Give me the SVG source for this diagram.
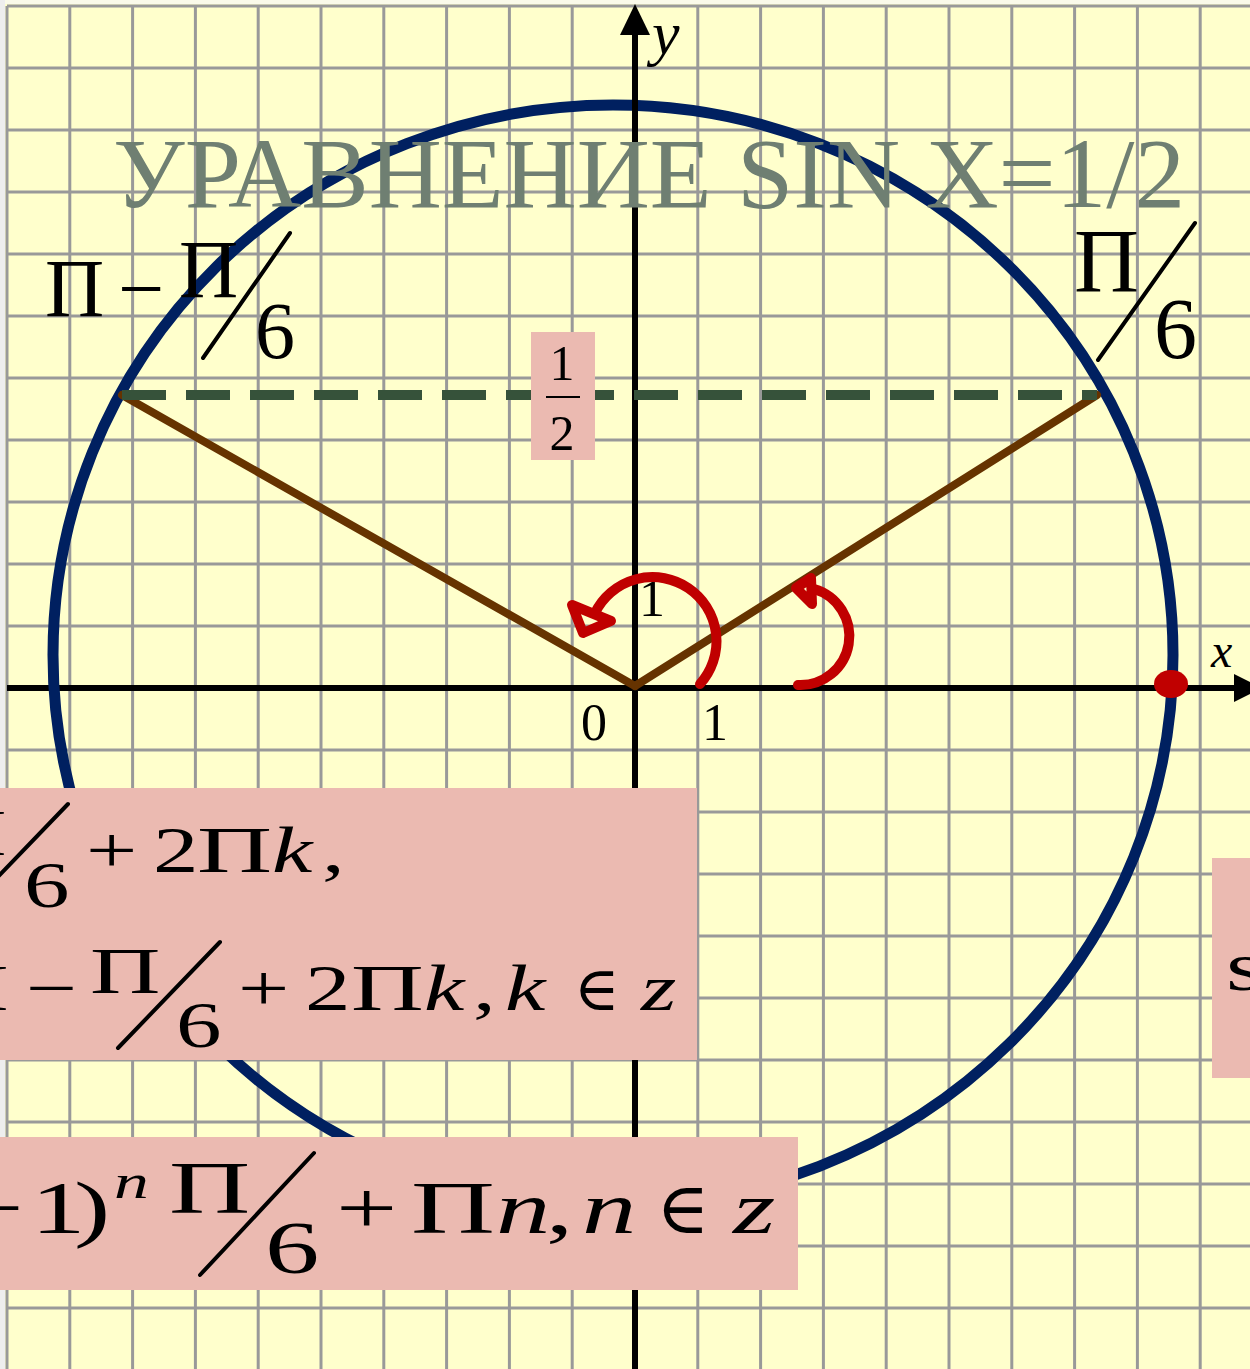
<svg xmlns="http://www.w3.org/2000/svg" width="1250" height="1369" viewBox="0 0 1250 1369">
<style>
.grid{stroke:#999999;stroke-width:3;fill:none}
.m{font-family:"Liberation Serif","DejaVu Serif",serif;fill:#000}
.i{font-style:italic}
.box{fill:#EBBAB1}
.red{stroke:#C00000;stroke-width:10;fill:none;stroke-linecap:round;stroke-linejoin:round}
.slash{stroke:#000;stroke-width:4;stroke-linecap:round}
</style>
<rect x="0" y="0" width="1250" height="1369" fill="#FFFFCC"/>
<rect x="0" y="0" width="1250" height="4" fill="#FAFAEA"/>
<rect x="0" y="0" width="5" height="1369" fill="#EEEEEE"/>
<g id="grid">
<path class="grid" d="M7 6V1369M69.8 6V1369M132.6 6V1369M195.4 6V1369M258.2 6V1369M321 6V1369M383.8 6V1369M446.6 6V1369M509.4 6V1369M572.2 6V1369M697.8 6V1369M760.6 6V1369M823.4 6V1369M886.2 6V1369M949 6V1369M1011.8 6V1369M1074.6 6V1369M1137.4 6V1369M1200.2 6V1369"/>
<path class="grid" d="M7 6H1250M7 68H1250M7 130H1250M7 192H1250M7 254H1250M7 316H1250M7 378H1250M7 440H1250M7 502H1250M7 564H1250M7 626H1250M7 750H1250M7 812H1250M7 874H1250M7 936H1250M7 998H1250M7 1060H1250M7 1122H1250M7 1184H1250M7 1246H1250M7 1308H1250"/>
</g>
<g id="x-axis">
<line x1="7" y1="688" x2="1236" y2="688" stroke="#000" stroke-width="6"/>
<polygon points="1234,674 1262,688 1234,702" fill="#000"/>
<text class="m i" x="1211" y="667" font-size="48">x</text>
</g>
<g id="circle">
<ellipse cx="613" cy="655" rx="560" ry="550" fill="none" stroke="#002060" stroke-width="11"/>
</g>
<g id="y-axis">
<line x1="635" y1="1369" x2="635" y2="32" stroke="#000" stroke-width="6"/>
<polygon points="635,4 620,35 650,35" fill="#000"/>
<text class="m i" x="652" y="54" font-size="62">y</text>
</g>
<g id="ticks">
<text class="m" x="581" y="740" font-size="52">0</text>
<text class="m" x="702" y="740" font-size="52">1</text>
<text class="m" x="639" y="616" font-size="52">1</text>
</g>
<g id="title">
<text x="113" y="207" font-family="'Liberation Serif',serif" font-size="100" fill="#6F7F72" textLength="1072" lengthAdjust="spacingAndGlyphs">УРАВНЕНИЕ SIN X=1/2</text>
</g>
<g id="connectors">
<line x1="635" y1="686" x2="122" y2="395" stroke="#663300" stroke-width="8" stroke-linecap="round"/>
<line x1="635" y1="686" x2="1097" y2="395" stroke="#663300" stroke-width="8" stroke-linecap="round"/>
<line x1="122" y1="395" x2="1097" y2="395" stroke="#36523A" stroke-width="10" stroke-dasharray="44 20"/>
<path class="red" d="M700 684 A64 64 0 1 0 595 613"/>
<polygon class="red" fill="#C00000" points="572,605 583,633 611,621"/>
<path class="red" d="M798 685 A49 49 0 0 0 814 589"/>
<polygon class="red" fill="#C00000" points="796,588 811,578 812,604"/>
</g>
<g id="point">
<ellipse cx="1171" cy="684" rx="17" ry="14" fill="#C00000"/>
</g>
<g id="label-pi-minus">
<text class="m" x="45" y="316" font-size="82">Π</text>
<text class="m" x="118" y="316" font-size="82">−</text>
<text class="m" x="179" y="297" font-size="82">Π</text>
<line class="slash" x1="203" y1="358" x2="290" y2="233"/>
<text class="m" x="255" y="358" font-size="80">6</text>
</g>
<g id="label-pi6">
<text class="m" x="1074" y="292" font-size="90">Π</text>
<line class="slash" x1="1098" y1="360" x2="1195" y2="223"/>
<text class="m" x="1154" y="358" font-size="86">6</text>
</g>
<g id="half">
<rect class="box" x="531" y="332" width="64" height="128"/>
<text class="m" x="562" y="380" font-size="50" text-anchor="middle">1</text>
<line x1="546" y1="397" x2="580" y2="397" stroke="#000" stroke-width="2"/>
<text class="m" x="562" y="450" font-size="50" text-anchor="middle">2</text>
</g>
<g id="formula1" font-size="65">
<rect class="box" x="-5" y="788" width="702" height="272"/>
<text class="m" transform="translate(-66,855) scale(1.55,1)">Π</text>
<line class="slash" x1="68" y1="804" x2="-34" y2="910"/>
<text class="m" transform="translate(24,907) scale(1.4,1)">6</text>
<text class="m" transform="translate(86,872) scale(1.4,1)">+</text>
<text class="m" transform="translate(153,872) scale(1.4,1)">2</text>
<text class="m" transform="translate(197,872) scale(1.6,1)">Π</text>
<text class="m i" transform="translate(272,872) scale(1.4,1)">k</text>
<text class="m" transform="translate(322,872) scale(1.4,1)">,</text>
<text class="m" transform="translate(-64,1010) scale(1.55,1)">Π</text>
<text class="m" transform="translate(26,1010) scale(1.4,1)">−</text>
<text class="m" transform="translate(90,993) scale(1.5,1)">Π</text>
<line class="slash" x1="118" y1="1048" x2="220" y2="942"/>
<text class="m" transform="translate(176,1047) scale(1.4,1)">6</text>
<text class="m" transform="translate(238,1010) scale(1.4,1)">+</text>
<text class="m" transform="translate(305,1010) scale(1.4,1)">2</text>
<text class="m" transform="translate(351,1010) scale(1.55,1)">Π</text>
<text class="m i" transform="translate(424,1010) scale(1.4,1)">k</text>
<text class="m" transform="translate(473,1010) scale(1.4,1)">,</text>
<text class="m i" transform="translate(505,1010) scale(1.4,1)">k</text>
<text class="m" font-size="62" transform="translate(574,1010)">∈</text>
<text class="m i" transform="translate(641,1010) scale(1.4,1)">z</text>
</g>
<g id="formula2" font-size="70">
<rect class="box" x="1212" y="858" width="45" height="220"/>
<text class="m" transform="translate(1226,990) scale(1.4,1)">s</text>
</g>
<g id="formula3" font-size="75">
<rect class="box" x="-5" y="1137" width="803" height="153"/>
<text class="m" transform="translate(-38,1233) scale(1.45,1)">−</text>
<text class="m" transform="translate(31,1233) scale(1.45,1)">1</text>
<text class="m" transform="translate(74,1233) scale(1.45,1)">)</text>
<text class="m i" font-size="48" transform="translate(114,1198) scale(1.45,1)">n</text>
<text class="m" transform="translate(169,1213) scale(1.5,1)">Π</text>
<line class="slash" x1="200" y1="1275" x2="314" y2="1153"/>
<text class="m" transform="translate(265,1273) scale(1.45,1)">6</text>
<text class="m" transform="translate(336,1233) scale(1.45,1)">+</text>
<text class="m" transform="translate(411,1233) scale(1.55,1)">Π</text>
<text class="m i" transform="translate(496,1233) scale(1.45,1)">n</text>
<text class="m" transform="translate(546,1233) scale(1.45,1)">,</text>
<text class="m i" transform="translate(582,1233) scale(1.45,1)">n</text>
<text class="m" font-size="72" transform="translate(656,1233)">∈</text>
<text class="m i" transform="translate(733,1233) scale(1.45,1)">z</text>
</g>
</svg>
